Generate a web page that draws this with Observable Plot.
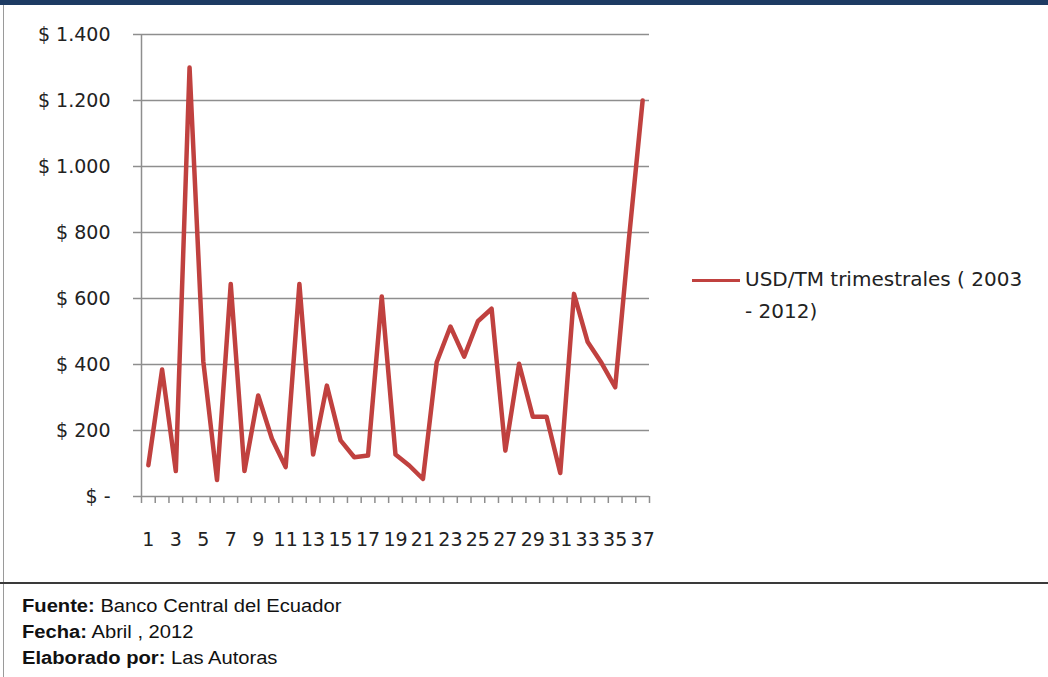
<!DOCTYPE html>
<html>
<head>
<meta charset="utf-8">
<script src="https://cdn.jsdelivr.net/npm/d3@7"></script>
<script src="https://cdn.jsdelivr.net/npm/@observablehq/plot@0.6"></script>
<style>
  html, body { margin: 0; padding: 0; background: #fff; }
  #wrap { position: relative; width: 1048px; height: 677px; overflow: hidden; background: #fff; }
  #topbar { position: absolute; left: 0; top: 0; width: 1048px; height: 5px; background: #1d3b63; }
  #leftborder { position: absolute; left: 3px; top: 5px; width: 1px; height: 672px; background: #9a9a9a; }
  #chart { position: absolute; left: 0; top: 0; }
  #legend { position: absolute; left: 692px; top: 263px; font-family: "DejaVu Sans", sans-serif; font-size: 20px; color: #222; line-height: 32px; }
  #legend .sw { position: absolute; left: 0; top: 16px; width: 48px; height: 3px; background: #c0413f; }
  #legend .txt { position: absolute; left: 53px; top: 0; white-space: nowrap; }
  #footline { position: absolute; left: 0; top: 582px; width: 1048px; height: 2px; background: #3a3a3a; }
  #footer { position: absolute; left: 22px; top: 593px; font-family: "Liberation Sans", Arial, sans-serif; font-size: 18px; color: #111; line-height: 26px; transform: scaleX(1.12); transform-origin: left top; white-space: nowrap; }
</style>
</head>
<body>
<div id="wrap">
  <div id="chart"></div>
  <div id="topbar"></div>
  <div id="leftborder"></div>
  <div id="legend"><div class="sw"></div><div class="txt">USD/TM trimestrales ( 2003<br>- 2012)</div></div>
  <div id="footline"></div>
  <div id="footer">
    <div><b>Fuente:</b> Banco Central del Ecuador</div>
    <div><b>Fecha:</b> Abril , 2012</div>
    <div><b>Elaborado por:</b> Las Autoras</div>
  </div>
</div>
<script>
const quarters = [1,2,3,4,5,6,7,8,9,10,11,12,13,14,15,16,17,18,19,20,21,22,23,24,25,26,27,28,29,30,31,32,33,34,35,36,37];
const usdPerTon = [95,385,77,1300,410,50,644,77,306,175,89,644,127,336,170,119,124,606,127,94,53,407,515,424,531,569,139,402,242,242,71,614,468,405,331,780,1200];
const yTicks = [0,200,400,600,800,1000,1200,1400];
const xLabelTicks = [1,3,5,7,9,11,13,15,17,19,21,23,25,27,29,31,33,35,37];

const data = quarters.map((q, i) => ({q, v: usdPerTon[i]}));
const boundaries = [0, ...quarters].map(q => q + 0.5);

const thousands = d3.formatLocale({decimal: ",", thousands: ".", grouping: [3], currency: ["$", ""]}).format(",d");
const yFmt = d => d === 0 ? "$ -" : "$ " + thousands(d);

const gridColor = "#8e8e8e";

const chart = Plot.plot({
  width: 1048,
  height: 583,
  marginLeft: 141,
  marginRight: 399,
  marginTop: 34,
  marginBottom: 87,
  style: {fontFamily: "'DejaVu Sans', sans-serif", color: "#222", background: "transparent"},
  x: {type: "linear", domain: [0.5, 37.5]},
  y: {domain: [0, 1400]},
  marks: [
    Plot.ruleY(yTicks.filter(d => d > 0), {stroke: gridColor, strokeWidth: 1.5}),
    Plot.ruleX([0.5], {stroke: gridColor, strokeWidth: 1.5}),
    Plot.ruleY([0], {stroke: gridColor, strokeWidth: 1.5}),
    Plot.axisY({ticks: yTicks, tickFormat: yFmt, tickSize: 8, tickPadding: 23, stroke: gridColor, strokeWidth: 1.5, fontSize: 19, label: null}),
    Plot.axisX({ticks: boundaries, tickFormat: () => "", tickSize: 7, stroke: gridColor, strokeWidth: 1.5, label: null}),
    Plot.axisX({ticks: xLabelTicks, tickFormat: d => String(d), tickSize: 0, tickPadding: 36, fontSize: 19, label: null}),
    Plot.line(data, {x: "q", y: "v", stroke: "#c0413f", strokeWidth: 4.5, strokeLinejoin: "round", strokeLinecap: "round"})
  ]
});
document.getElementById("chart").appendChild(chart);
</script>
</body>
</html>
